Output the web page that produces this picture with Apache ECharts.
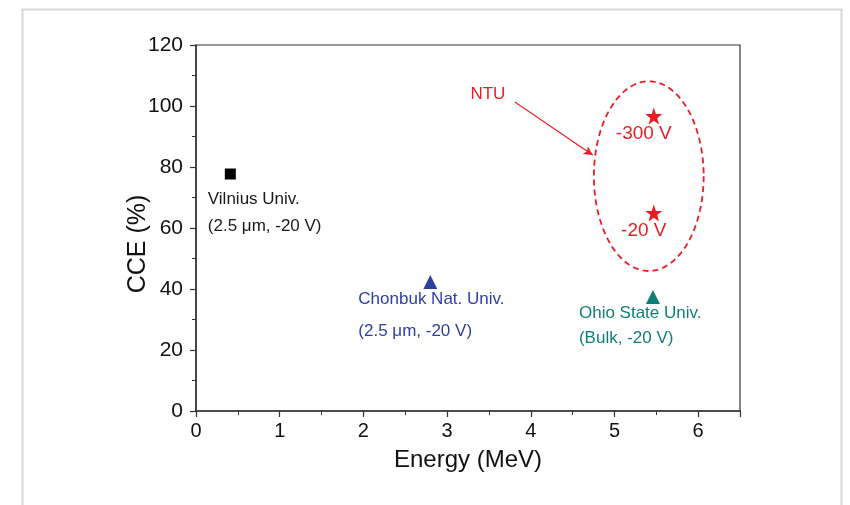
<!DOCTYPE html>
<html>
<head>
<meta charset="utf-8">
<script src="https://cdn.jsdelivr.net/npm/echarts@6/dist/echarts.min.js"></script>
<style>html,body{margin:0;padding:0;background:#fff;}#c{width:850px;height:505px;}</style>
</head>
<body>
<div id="c"></div>
<script>
// ---- data ----
var xTicks = [0, 1, 2, 3, 4, 5, 6];
var yTicks = [0, 20, 40, 60, 80, 100, 120];
var vilnius = [[0.41, 77.7]];
var chonbuk = [[2.80, 42.3]];
var ohio = [[5.46, 37.4]];
var ntu = [[5.47, 96.7], [5.47, 64.9]];
var ntuLabels = ['-300 V', '-20 V'];
var vilniusLabel = ['Vilnius Univ.', '(2.5 μm, -20 V)'];
var chonbukLabel = ['Chonbuk Nat. Univ.', '(2.5 μm, -20 V)'];
var ohioLabel = ['Ohio State Univ.', '(Bulk, -20 V)'];
var ntuEllipse = [[5.41, 77.0, 0.656, 31.1]]; // center x, center y, radius x, radius y (data units)
var arrowFrom = [3.81, 101.3];
var arrowTo = [4.74, 83.9];
var ntuText = [[3.72, 103.8]];

var FONT = 'Arial, "Liberation Sans", Helvetica, sans-serif';
var RED = '#ec1c24', BLUE = '#2f3f9e', TEAL = '#0e7f78', AXIS = '#333333';

var chart = echarts.init(document.getElementById('c'), null, {renderer: 'canvas'});
chart.setOption({
  animation: false,
  backgroundColor: '#fff',
  graphic: [{
    type: 'rect', left: 20, top: 7, silent: true,
    shape: {x: 0, y: 0, width: 819, height: 520},
    style: {fill: 'none', stroke: '#d6d6d6', lineWidth: 2}
  }],
  grid: {left: 196, right: 110, top: 45, bottom: 94, show: true, borderColor: AXIS, borderWidth: 1.2, backgroundColor: 'transparent'},
  xAxis: {
    type: 'value', min: 0, max: 6.5, interval: 1,
    name: 'Energy (MeV)', nameLocation: 'middle', nameGap: 37, nameMoveOverlap: false,
    nameTextStyle: {fontFamily: FONT, fontSize: 24, color: '#111'},
    axisLine: {show: true, onZero: false, lineStyle: {color: AXIS, width: 1.5}},
    axisTick: {show: true, inside: false, length: 6, lineStyle: {color: AXIS, width: 1.2}},
    minorTick: {show: true, splitNumber: 2, length: 4, lineStyle: {color: AXIS, width: 1}},
    axisLabel: {fontFamily: FONT, fontSize: 20, color: '#111', margin: 10,
      formatter: function (v) { return xTicks.indexOf(v) >= 0 ? String(v) : ''; }},
    splitLine: {show: false}
  },
  yAxis: {
    type: 'value', min: 0, max: 120, interval: 20,
    name: 'CCE (%)', nameLocation: 'middle', nameGap: 45, nameRotate: 90, nameMoveOverlap: false,
    nameTextStyle: {fontFamily: FONT, fontSize: 25, color: '#111', padding: [0, 32, 0, 0]},
    axisLine: {show: true, onZero: false, lineStyle: {color: AXIS, width: 1.5}},
    axisTick: {show: true, inside: false, length: 6, lineStyle: {color: AXIS, width: 1.2}},
    minorTick: {show: true, splitNumber: 2, length: 4, lineStyle: {color: AXIS, width: 1}},
    axisLabel: {fontFamily: FONT, fontSize: 21, color: '#111', margin: 13,
      formatter: function (v) { return yTicks.indexOf(v) >= 0 ? String(v) : ''; }},
    splitLine: {show: false}
  },
  series: [
    {
      type: 'scatter', name: 'Vilnius', data: vilnius, symbol: 'rect', symbolSize: 11,
      itemStyle: {color: '#000', opacity: 1},
      label: {show: true, position: [-17, 17], align: 'left', verticalAlign: 'top', opacity: 1,
        formatter: vilniusLabel.join('\n'), fontFamily: FONT, fontSize: 17, lineHeight: 27, color: '#1a1a1a'}
    },
    {
      type: 'scatter', name: 'Chonbuk', data: chonbuk, symbol: 'triangle', symbolSize: 14,
      itemStyle: {color: BLUE, opacity: 1},
      label: {show: true, position: [-65, 8], align: 'left', verticalAlign: 'top', opacity: 1,
        formatter: chonbukLabel.join('\n'), fontFamily: FONT, fontSize: 17, lineHeight: 32, color: BLUE}
    },
    {
      type: 'scatter', name: 'Ohio', data: ohio, symbol: 'triangle', symbolSize: 14,
      itemStyle: {color: TEAL, opacity: 1},
      label: {show: true, position: [-67, 11], align: 'left', verticalAlign: 'top', opacity: 1,
        formatter: ohioLabel.join('\n'), fontFamily: FONT, fontSize: 17, lineHeight: 25, color: TEAL}
    },
    {
      type: 'scatter', name: 'NTU', data: ntu, symbol: 'path://M0,-10 L2.35,-3.24 L9.51,-3.09 L3.8,1.24 L5.88,8.09 L0,4 L-5.88,8.09 L-3.8,1.24 L-9.51,-3.09 L-2.35,-3.24 Z',
      symbolSize: 17, itemStyle: {color: RED, opacity: 1},
      label: {show: true, position: 'bottom', distance: 0, offset: [-10, 0], opacity: 1,
        formatter: function (p) { return ntuLabels[p.dataIndex]; },
        fontFamily: FONT, fontSize: 19, color: RED}
    },
    {
      type: 'custom', name: 'NTU ellipse', data: ntuEllipse, silent: true, z: 1,
      renderItem: function (params, api) {
        var c = api.coord([api.value(0), api.value(1)]);
        var s = api.size([api.value(2), api.value(3)]);
        var pts = [];
        for (var i = 0; i <= 120; i++) {
          var t = i / 120 * Math.PI * 2;
          pts.push([c[0] + s[0] * Math.cos(t), c[1] + s[1] * Math.sin(t)]);
        }
        return {type: 'polygon', shape: {points: pts},
          style: {fill: 'none', stroke: RED, lineWidth: 1.8, lineDash: [6, 4]}};
      },
      markLine: {
        silent: true, symbol: ['none', 'arrow'], symbolSize: [7, 9],
        lineStyle: {color: RED, width: 1.2, type: 'solid', opacity: 1},
        label: {show: false},
        data: [[{coord: arrowFrom}, {coord: arrowTo}]]
      }
    },
    {
      type: 'scatter', name: 'NTU text', data: ntuText, symbolSize: 0, silent: true,
      label: {show: true, position: 'left', distance: 2, formatter: 'NTU', opacity: 1,
        fontFamily: FONT, fontSize: 17, color: RED}
    }
  ]
});
</script>
</body>
</html>
